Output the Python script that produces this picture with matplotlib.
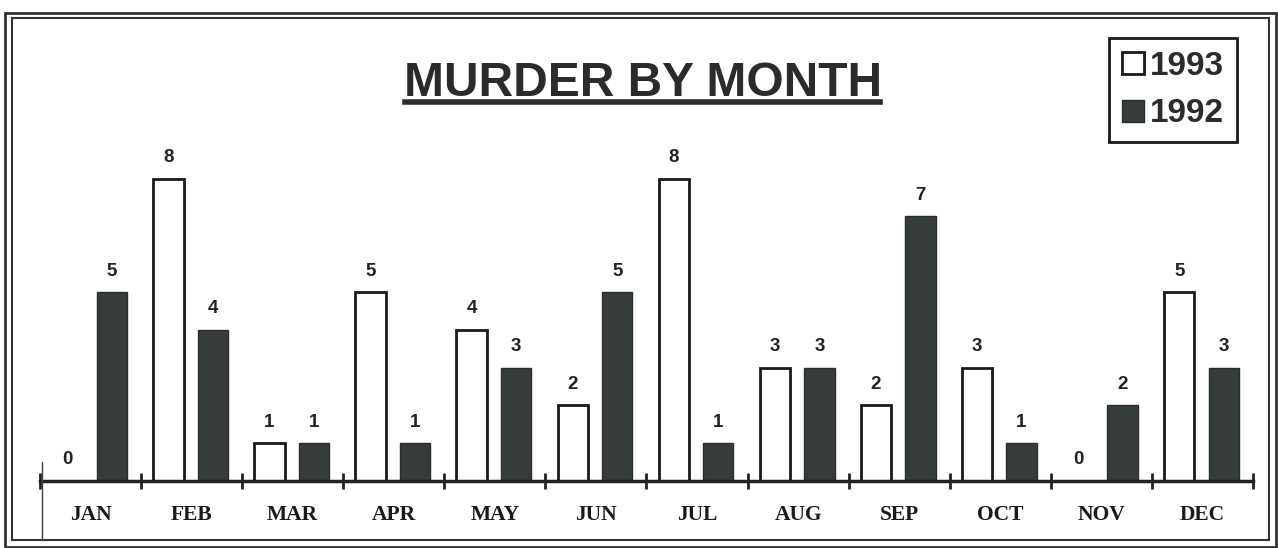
import matplotlib
matplotlib.use("Agg")
import matplotlib.pyplot as plt
from matplotlib.patches import Rectangle
from matplotlib.lines import Line2D
import numpy as np

months = ["JAN", "FEB", "MAR", "APR", "MAY", "JUN",
          "JUL", "AUG", "SEP", "OCT", "NOV", "DEC"]
murders_1993 = [0, 8, 1, 5, 4, 2, 8, 3, 2, 3, 0, 5]
murders_1992 = [5, 4, 1, 1, 3, 5, 1, 3, 7, 1, 2, 3]

W, H = 1278, 548
fig = plt.figure(figsize=(W / 100, H / 100), dpi=100)
ax = fig.add_axes([40 / W, 67 / H, 1213 / W, 378 / H])

x = np.arange(len(months))
dark = "#363c37"
b93 = ax.bar(x - 0.23, murders_1993, width=0.3, color="white",
             edgecolor="#1a1a1a", linewidth=2, label="1993")
b92 = ax.bar(x + 0.21, murders_1992, width=0.3, color=dark,
             edgecolor="#2a2e2a", linewidth=1, label="1992")

# value labels over each bar
for bars in (b93, b92):
    for rect in bars:
        v = rect.get_height()
        ax.annotate(str(int(v)), (rect.get_x() + rect.get_width() / 2, v),
                    xytext=(0, 9), textcoords="offset points",
                    ha="center", va="bottom", fontsize=13.5,
                    fontweight="bold", family="Liberation Sans", color="#222222")

ax.set_xlim(-0.5, 11.5)
ax.set_ylim(0, 10)
for s in ("top", "right", "left"):
    ax.spines[s].set_visible(False)
ax.spines["bottom"].set_linewidth(2.5)
ax.spines["bottom"].set_color("#222222")
ax.set_yticks([])

# ticks on the month boundaries, labels at the month centres
ax.set_xticks(np.arange(-0.5, 12, 1))
ax.set_xticklabels([])
ax.tick_params(axis="x", which="major", direction="inout", length=12,
               width=2, color="#222222")
ax.set_xticks(x, minor=True)
ax.set_xticklabels(months, minor=True, fontsize=15.5, fontweight="bold",
                   family="Liberation Serif", color="#1a1a1a")
ax.tick_params(axis="x", which="minor", length=0, pad=17)

# title with underline
fig.text(643 / W, 1 - 84 / H, "MURDER BY MONTH", ha="center", va="center",
         fontsize=34.5, fontweight="bold", family="Liberation Sans",
         color="#2b2b2b")
fig.add_artist(Line2D([405 / W, 880 / W], [1 - 102 / H, 1 - 102 / H],
                      transform=fig.transFigure, color="#2b2b2b", linewidth=4))

leg = ax.legend(handles=[b93, b92], loc="upper right",
                bbox_to_anchor=(1237 / W, 1 - 38 / H),
                bbox_transform=fig.transFigure,
                prop={"family": "Liberation Sans", "weight": "bold", "size": 24},
                fancybox=False, edgecolor="#1a1a1a", framealpha=1,
                handlelength=0.65, handleheight=0.65, handletextpad=0.2,
                labelspacing=0.5, borderpad=0.38, borderaxespad=0)
leg.get_frame().set_linewidth(2)
for t in leg.get_texts():
    t.set_color("#2b2b2b")

# double frame around the page and the short left stub
fig.add_artist(Rectangle((5 / W, 1 - 547 / H), 1271 / W, 534 / H,
                         transform=fig.transFigure, fill=False,
                         edgecolor="#333333", linewidth=2))
fig.add_artist(Rectangle((12 / W, 1 - 540 / H), 1257 / W, 522 / H,
                         transform=fig.transFigure, fill=False,
                         edgecolor="#333333", linewidth=1.5))
fig.add_artist(Line2D([42 / W, 42 / W], [1 - 462 / H, 1 - 540 / H],
                      transform=fig.transFigure, color="#444444", linewidth=1))

fig.savefig("out.png", dpi=100)
